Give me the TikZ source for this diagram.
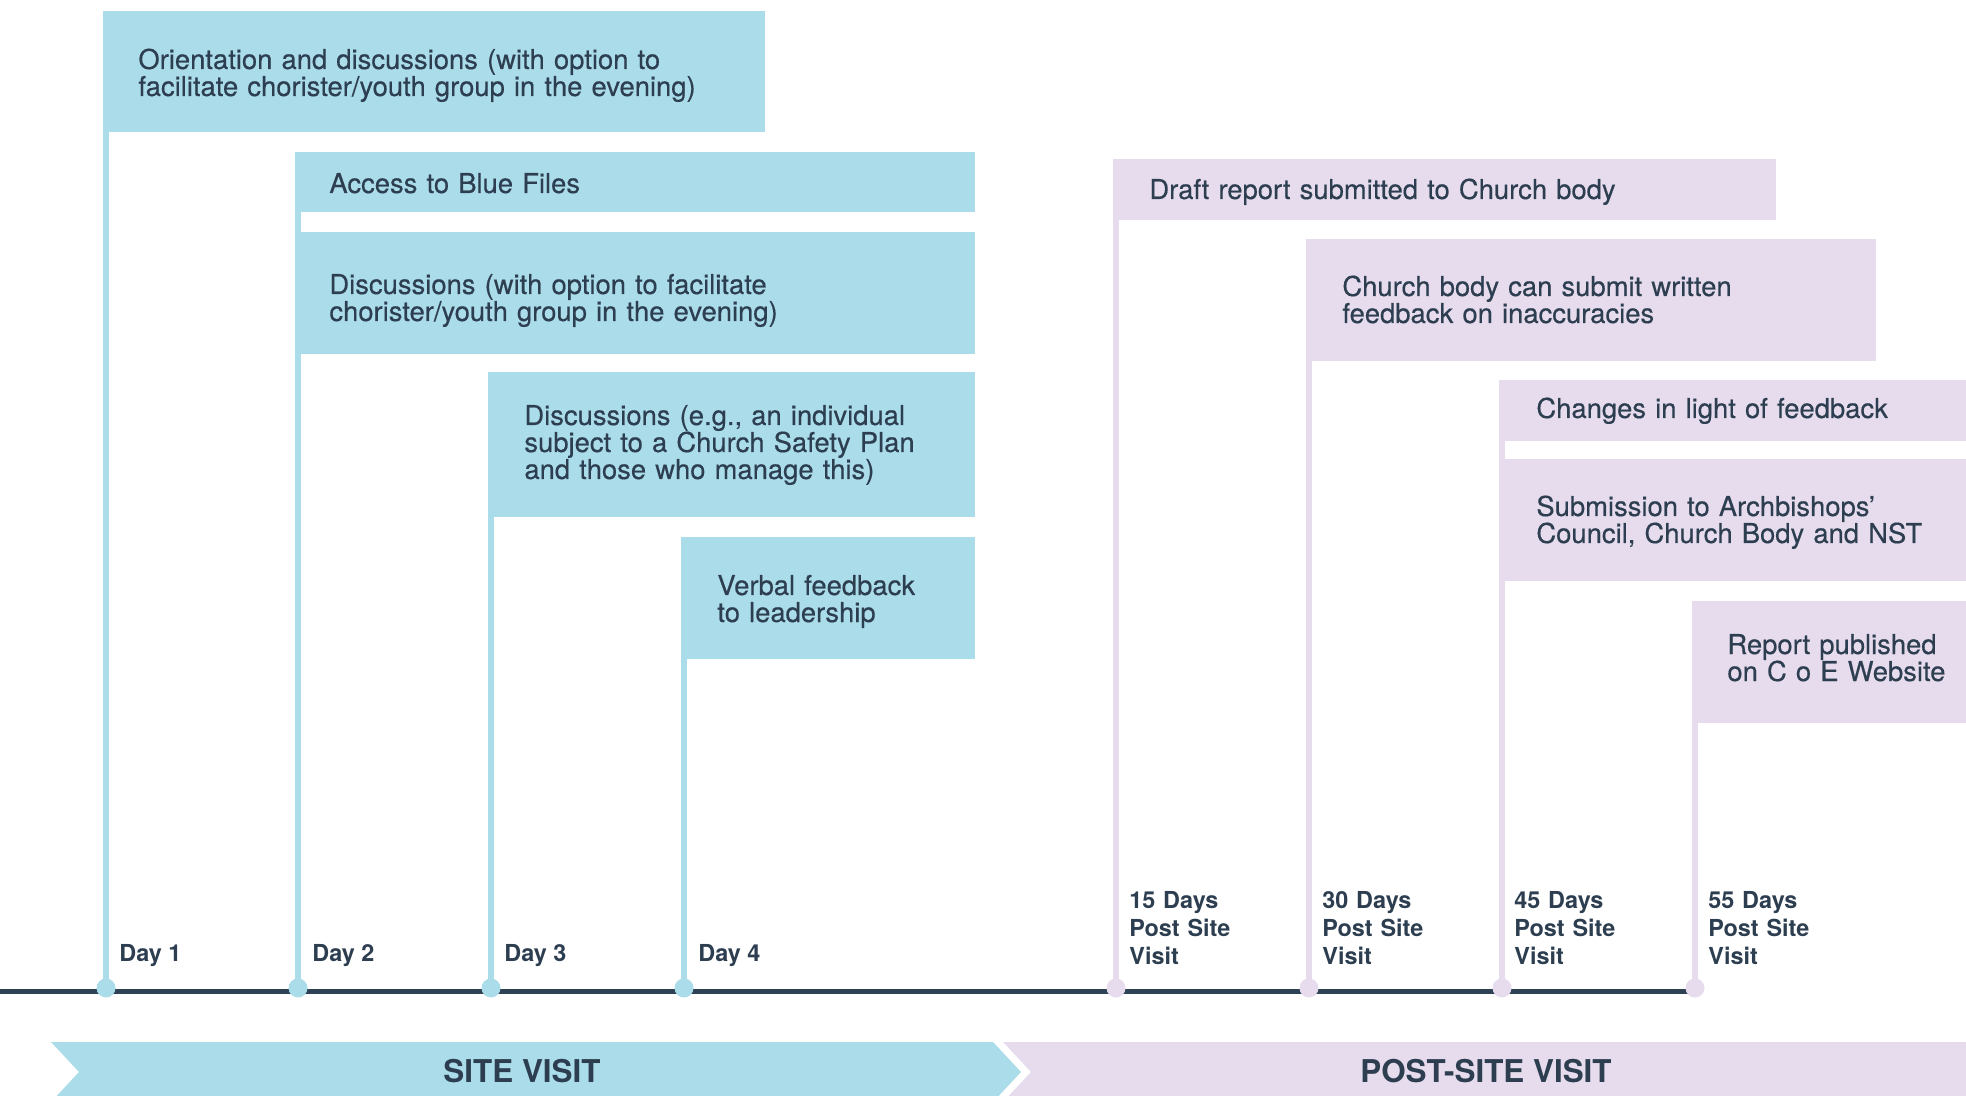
\documentclass[tikz,border=0pt]{standalone}
\usepackage{fontspec}
\setmainfont{TeX Gyre Heros}
\newfontfamily\boxfont{TeX Gyre Heros}[FakeBold=0.4]
\definecolor{sblue}{RGB}{171,220,234}
\definecolor{spurp}{RGB}{230,220,237}
\definecolor{navy}{RGB}{44,62,80}
\definecolor{tline}{RGB}{46,65,85}
\pgfdeclarelayer{bg}
\pgfsetlayers{bg,main}
\begin{document}
\begin{tikzpicture}[x=0.5pt,y=-0.5pt,
  bluebox/.style={fill=sblue, draw=none, anchor=north west, inner sep=0pt, outer sep=0pt},
  purpbox/.style={fill=spurp, draw=none, anchor=north west, inner sep=0pt, outer sep=0pt},
  boxtext/.style={anchor=base west, inner sep=0pt, text=navy, font=\boxfont\fontsize{13.7}{13.5}\selectfont, text width=300pt, align=left},
  daylabel/.style={anchor=base west, inner sep=0pt, text=navy, font=\fontsize{11.7}{14}\selectfont\bfseries},
  postlabel/.style={daylabel, text width=80pt, align=left},
  bluedot/.style={circle, fill=sblue, draw=none, inner sep=0pt, minimum size=9.5pt},
  purpdot/.style={circle, fill=spurp, draw=none, inner sep=0pt, minimum size=9.5pt},
  blueline/.style={draw=sblue, line width=2.9pt},
  purpline/.style={draw=spurp, line width=2.9pt},
  timeline/.style={draw=tline, line width=2.6pt},
  phase/.style={anchor=base, inner sep=0pt, text=navy, font=\fontsize{15.7}{18}\selectfont\bfseries}
]
\useasboundingbox (0,0) rectangle (1966,1096);

% site visit boxes
\node[bluebox, minimum width=330.5pt, minimum height=60.5pt] (b1) at (104,11) {};
\node[bluebox, minimum width=339.5pt, minimum height=30pt] (b2) at (296,152) {};
\node[bluebox, minimum width=339.5pt, minimum height=61pt] (b3) at (296,232) {};
\node[bluebox, minimum width=243pt, minimum height=72.5pt] (b4) at (489,372) {};
\node[bluebox, minimum width=146.5pt, minimum height=61pt] (b5) at (682,537) {};

% post-site boxes
\node[purpbox, minimum width=331.5pt, minimum height=30.5pt] (p1) at (1113,159) {};
\node[purpbox, minimum width=285pt, minimum height=61pt] (p2) at (1306,239) {};
\node[purpbox, minimum width=235pt, minimum height=30.5pt] (p3) at (1500,380) {};
\node[purpbox, minimum width=235pt, minimum height=61pt] (p4) at (1500,459) {};
\node[purpbox, minimum width=140pt, minimum height=61pt] (p5) at (1693,601) {};

% dots
\node[bluedot] (d1) at (106,988) {};
\node[bluedot] (d2) at (298,988) {};
\node[bluedot] (d3) at (491,988) {};
\node[bluedot] (d4) at (684,988) {};
\node[purpdot] (d5) at (1116,988) {};
\node[purpdot] (d6) at (1309,988) {};
\node[purpdot] (d7) at (1502,988) {};
\node[purpdot] (d8) at (1695,988) {};
\coordinate (t0) at (0,991.5);

\begin{pgfonlayer}{bg}
\draw[timeline] (t0) -- (t0 -| d8);
\draw[blueline] (d1 |- b1.north) -- (d1.center);
\draw[blueline] (d2 |- b2.north) -- (d2.center);
\draw[blueline] (d3 |- b4.north) -- (d3.center);
\draw[blueline] (d4 |- b5.north) -- (d4.center);
\draw[purpline] (d5 |- p1.north) -- (d5.center);
\draw[purpline] (d6 |- p2.north) -- (d6.center);
\draw[purpline] (d7 |- p3.north) -- (d7.center);
\draw[purpline] (d8 |- p5.north) -- (d8.center);
\end{pgfonlayer}

% box texts
\node[boxtext] (tb1) at (138,69) {Orientation and discussions (with option to\\facilitate chorister/youth group in the evening)};
\node[boxtext] (tb2) at (329,193) {Access to Blue Files};
\node[boxtext] (tb3) at (329,294) {Discussions (with option to facilitate\\chorister/youth group in the evening)};
\node[boxtext] (tb4) at (524,425) {Discussions (e.g., an individual\\subject to a Church Safety Plan\\and those who manage this)};
\node[boxtext] (tb5) at (717,595) {Verbal feedback\\to leadership};
\node[boxtext] (tp1) at (1149,199) {Draft report submitted to Church body};
\node[boxtext] (tp2) at (1342,296) {Church body can submit written\\feedback on inaccuracies};
\node[boxtext] (tp3) at (1536,418) {Changes in light of feedback};
\node[boxtext] (tp4) at (1536,516) {Submission to Archbishops’\\Council, Church Body and NST};
\node[boxtext] (tp5) at (1727,654) {Report published\\on C o E Website};

% day labels
\node[daylabel] (l1) at (119,961) {Day 1};
\node[daylabel] (l2) at (312,961) {Day 2};
\node[daylabel] (l3) at (504,961) {Day 3};
\node[daylabel] (l4) at (698,961) {Day 4};
\node[postlabel] (l5) at (1129,908) {15 Days\\Post Site\\Visit};
\node[postlabel] (l6) at (1322,908) {30 Days\\Post Site\\Visit};
\node[postlabel] (l7) at (1514,908) {45 Days\\Post Site\\Visit};
\node[postlabel] (l8) at (1708,908) {55 Days\\Post Site\\Visit};

% phase chevrons
\fill[sblue] (51,1042) -- (993,1042) -- (1021,1072) -- (993,1102) -- (51,1102) -- (79,1072) -- cycle;
\fill[spurp] (1003,1042) -- (1970,1042) -- (1970,1102) -- (1003,1102) -- (1031,1072) -- cycle;
\node[phase] (ph1) at (522,1082) {SITE VISIT};
\node[phase] (ph2) at (1486,1082) {POST-SITE VISIT};
\end{tikzpicture}
\end{document}
